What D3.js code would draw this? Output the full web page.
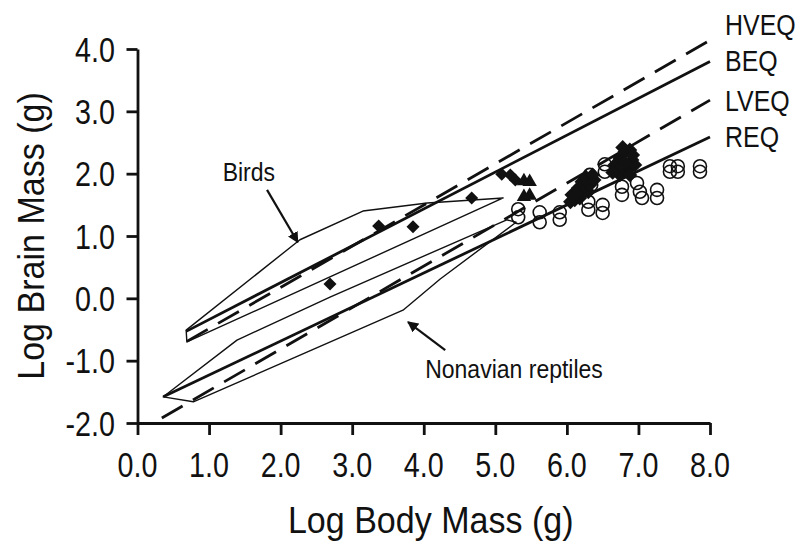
<!DOCTYPE html>
<html>
<head>
<meta charset="utf-8">
<script src="https://cdn.jsdelivr.net/npm/d3@7"></script>
<style>
  body { margin: 0; background: #fff; }
  svg text { font-family: "Liberation Sans", Arial, sans-serif; fill: #111; }
</style>
</head>
<body>
<div id="chart"></div>
<script>
// axis ticks
var xTicks = [0, 1, 2, 3, 4, 5, 6, 7, 8];
var yTicks = [-2, -1, 0, 1, 2, 3, 4];

// equation lines, start / end points in log units
var eqNames = ['HVEQ', 'BEQ', 'LVEQ', 'REQ'];
var eqStart = [[0.69, -0.69], [0.68, -0.53], [0.34, -1.92], [0.36, -1.58]];
var eqEnd = [[8.0, 4.14], [8.0, 3.80], [8.0, 3.18], [8.0, 2.59]];
var eqLabelY = [4.40, 3.82, 3.18, 2.60];
var eqDashed = ['HVEQ', 'LVEQ'];

// convex hulls
var birdHull = [[0.68, -0.51], [2.27, 0.94], [3.15, 1.40], [4.05, 1.53], [5.11, 1.61], [0.69, -0.70]];
var reptileHull = [[0.36, -1.58], [1.39, -0.67], [2.69, 0.02], [5.16, 1.26], [5.29, 1.22],
  [4.23, 0.31], [3.71, -0.19], [0.78, -1.66]];

// points
var diamonds = [[2.69, 0.23], [3.37, 1.16], [3.85, 1.15], [4.67, 1.61], [5.09, 1.99], [5.21, 1.98], [5.28, 1.90]];
var triangles = [[5.40, 1.88], [5.48, 1.87], [5.40, 1.63], [5.48, 1.65]];
var filledCluster = [[6.07, 1.66], [6.16, 1.77], [6.21, 1.87], [6.27, 1.93], [6.32, 1.82], [6.38, 1.90],
  [6.18, 1.61], [6.30, 1.71], [6.11, 1.58], [6.05, 1.55], [6.22, 1.70], [6.36, 1.98], [6.14, 1.68],
  [6.67, 2.14], [6.74, 2.25], [6.81, 2.35], [6.88, 2.38], [6.91, 2.22], [6.85, 2.06], [6.95, 2.14],
  [6.74, 1.98], [6.81, 2.17], [6.71, 2.06], [6.64, 2.02], [6.78, 2.42], [6.92, 2.30], [6.88, 1.98]];
var openCircles = [[5.32, 1.43], [5.32, 1.30], [5.62, 1.38], [5.62, 1.22], [5.90, 1.38], [5.90, 1.26],
  [6.30, 1.55], [6.30, 1.42], [6.50, 1.50], [6.50, 1.37], [6.32, 1.98], [6.34, 1.82], [6.53, 2.15],
  [6.53, 2.03], [6.77, 1.79], [6.77, 1.66], [6.98, 1.85], [7.02, 1.71], [7.05, 1.61], [7.26, 1.74],
  [7.26, 1.61], [7.44, 2.12], [7.44, 2.03], [7.55, 2.12], [7.55, 2.03], [7.86, 2.12], [7.86, 2.03]];

// annotations: text anchor, arrow tail, arrow head
var noteNames = ['Birds', 'Nonavian reptiles'];
var noteText = [[1.19, 1.88], [4.02, -1.28]];
var noteTail = [[1.81, 1.74], [4.30, -0.83]];
var noteHead = [[2.24, 0.90], [3.78, -0.38]];

var w = 800;
var h = 547;

var x = d3.scaleLinear().domain([0, 8]).range([137.5, 710]);
var y = d3.scaleLinear().domain([-2, 4]).range([423, 49]);

var svg = d3.select('#chart')
  .append('svg')
    .attr('width', w)
    .attr('height', h);

svg.append('defs').append('marker')
    .attr('id', 'arrow')
    .attr('viewBox', '0 0 10 10')
    .attr('refX', 9)
    .attr('refY', 5)
    .attr('markerWidth', 5)
    .attr('markerHeight', 5)
    .attr('markerUnits', 'strokeWidth')
    .attr('orient', 'auto')
  .append('path')
    .attr('d', 'M0,0L10,5L0,10z')
    .attr('fill', '#111');

// squeezed text helper (the original type is narrow)
function label(g, px, py, txt, size, sx, anchor) {
  return g.append('text')
    .attr('transform', 'translate(' + px + ',' + py + ') scale(' + sx + ',1)')
    .attr('text-anchor', anchor || 'start')
    .style('font-size', size + 'px')
    .text(txt);
}

var line = d3.line().x(d => x(d[0])).y(d => y(d[1]));

// hulls
svg.selectAll('.hull')
  .data([birdHull, reptileHull])
  .enter()
  .append('path')
    .attr('class', 'hull')
    .attr('d', d => line(d) + 'Z')
    .attr('fill', 'none')
    .attr('stroke', '#111')
    .attr('stroke-width', 1.4)
    .attr('stroke-linejoin', 'round');

// equation lines
svg.selectAll('.eq')
  .data(eqNames)
  .enter()
  .append('path')
    .attr('class', 'eq')
    .attr('d', (d, i) => line([eqStart[i], eqEnd[i]]))
    .attr('fill', 'none')
    .attr('stroke', '#111')
    .attr('stroke-width', 2.8)
    .attr('stroke-dasharray', d => eqDashed.indexOf(d) > -1 ? '24,12' : null);

eqNames.forEach(function(d, i) {
  label(svg, x(8) + 15, y(eqLabelY[i]), d, 29, 0.86)
    .attr('dy', '0.36em');
});

// open circles
svg.selectAll('.open')
  .data(openCircles)
  .enter()
  .append('circle')
    .attr('class', 'open')
    .attr('cx', d => x(d[0]))
    .attr('cy', d => y(d[1]))
    .attr('r', 6.5)
    .attr('fill', 'none')
    .attr('stroke', '#111')
    .attr('stroke-width', 1.6);

var diamond = d3.symbol().type(d3.symbolSquare).size(85);
var bigDiamond = d3.symbol().type(d3.symbolSquare).size(110);
var triangle = d3.symbol().type(d3.symbolTriangle).size(90);

svg.selectAll('.dia')
  .data(diamonds)
  .enter()
  .append('path')
    .attr('class', 'dia')
    .attr('d', diamond)
    .attr('transform', d => 'translate(' + x(d[0]) + ',' + y(d[1]) + ') rotate(45)')
    .attr('fill', '#111');

svg.selectAll('.cluster')
  .data(filledCluster)
  .enter()
  .append('path')
    .attr('class', 'cluster')
    .attr('d', bigDiamond)
    .attr('transform', d => 'translate(' + x(d[0]) + ',' + y(d[1]) + ') rotate(45)')
    .attr('fill', '#111');

svg.selectAll('.tri')
  .data(triangles)
  .enter()
  .append('path')
    .attr('class', 'tri')
    .attr('d', triangle)
    .attr('transform', d => 'translate(' + x(d[0]) + ',' + y(d[1]) + ')')
    .attr('fill', '#111');

// annotations
noteNames.forEach(function(d, i) {
  svg.append('line')
    .attr('x1', x(noteTail[i][0]))
    .attr('y1', y(noteTail[i][1]))
    .attr('x2', x(noteHead[i][0]))
    .attr('y2', y(noteHead[i][1]))
    .attr('stroke', '#111')
    .attr('stroke-width', 2.2)
    .attr('marker-end', 'url(#arrow)');
  label(svg, x(noteText[i][0]), y(noteText[i][1]), d, 25, 0.92);
});

// axes
svg.append('g')
  .attr('transform', 'translate(0,' + y(-2) + ')')
  .call(d3.axisBottom(x).tickValues(xTicks).tickSize(12).tickSizeOuter(0).tickFormat(''));

svg.append('g')
  .attr('transform', 'translate(' + x(0) + ',0)')
  .call(d3.axisLeft(y).tickValues(yTicks).tickSize(11).tickSizeOuter(0).tickFormat(''));

svg.selectAll('.domain, .tick line')
  .attr('stroke', '#111')
  .attr('stroke-width', 2.8);

xTicks.forEach(function(t) {
  label(svg, x(t), 477, t.toFixed(1), 35, 0.82, 'middle');
});
yTicks.forEach(function(t) {
  label(svg, 115, y(t), t.toFixed(1), 35, 0.82, 'end')
    .attr('dy', '0.36em');
});

label(svg, (x(0) + x(8)) / 2 + 7, 533, 'Log Body Mass (g)', 37, 0.92, 'middle');

svg.append('text')
  .attr('transform', 'translate(44,' + ((y(-2) + y(4)) / 2) + ') rotate(-90) scale(0.92,1)')
  .attr('text-anchor', 'middle')
  .style('font-size', '37px')
  .text('Log Brain Mass (g)');
</script>
</body>
</html>
